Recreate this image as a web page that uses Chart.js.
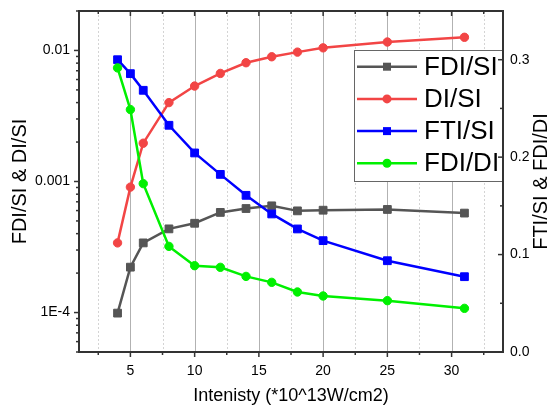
<!DOCTYPE html>
<html>
<head>
<meta charset="utf-8">
<script src="https://cdn.jsdelivr.net/npm/chart.js@4"></script>
<style>
  html, body { margin: 0; padding: 0; background: #fff; }
  #wrap { width: 551px; height: 405px; }
</style>
</head>
<body>
<div id="wrap"><canvas id="chart" width="551" height="405"></canvas></div>
<script>
// values
const intensity = [4, 5, 6, 8, 10, 12, 14, 16, 18, 20, 25, 31];
const fdiSi = [9.9e-5, 2.22e-4, 3.4e-4, 4.35e-4, 4.8e-4, 5.81e-4, 6.22e-4, 6.52e-4, 5.97e-4, 6.04e-4, 6.12e-4, 5.74e-4];
const diSi = [3.4e-4, 9.06e-4, 1.96e-3, 4.0e-3, 5.35e-3, 6.68e-3, 8.06e-3, 8.95e-3, 9.71e-3, 1.047e-2, 1.16e-2, 1.26e-2];
const ftiSi = [0.300, 0.2857, 0.2686, 0.2327, 0.2043, 0.1823, 0.1608, 0.1417, 0.1263, 0.1143, 0.0937, 0.0773];
const fdiDi = [0.2916, 0.2488, 0.1728, 0.1084, 0.0886, 0.0869, 0.0776, 0.0715, 0.0616, 0.0575, 0.0527, 0.0448];

const xTicks = [5, 10, 15, 20, 25, 30];
const xMinor = [2.5, 7.5, 12.5, 17.5, 22.5, 27.5, 32.5];
const leftTicks = [1e-4, 1e-3, 1e-2];
const leftTickLabels = ['1E-4', '0.001', '0.01'];
const rightTicks = [0, 0.1, 0.2, 0.3];
const rightTickLabels = ['0.0', '0.1', '0.2', '0.3'];
const rightMinor = [0.05, 0.15, 0.25];

const FONT = "'Liberation Sans', Arial, sans-serif";
Chart.defaults.font.family = FONT;
Chart.defaults.color = '#000';

function pts(ys) { return intensity.map(function(x, i) { return { x: x, y: ys[i] }; }); }

function series(label, ys, color, style, axis, order) {
  return {
    label: label, data: pts(ys), yAxisID: axis, order: order,
    borderColor: color, backgroundColor: color,
    pointBackgroundColor: color, pointBorderColor: color,
    pointStyle: style, pointRadius: style === 'rect' ? 5.5 : 4.2, pointBorderWidth: 1,
    borderWidth: 2.5, tension: 0
  };
}

// chart.js reserves room for edge labels; the frame here is fixed, so drop it
function noEdgePad(s) { s.paddingTop = 0; s.paddingBottom = 0; s.paddingLeft = 0; s.paddingRight = 0; }

const decor = {
  id: 'decor',
  beforeDatasetsDraw(chart) {
    const ctx = chart.ctx, a = chart.chartArea, x = chart.scales.x;
    ctx.save();
    ctx.lineWidth = 1;
    ctx.strokeStyle = '#d4d4d4';
    ctx.setLineDash([2, 2]);
    xMinor.forEach(function(v) {
      const px = Math.round(x.getPixelForValue(v)) + 0.5;
      ctx.beginPath(); ctx.moveTo(px, a.top); ctx.lineTo(px, a.bottom); ctx.stroke();
    });
    ctx.setLineDash([]);
    ctx.strokeStyle = '#b2b2b2';
    xTicks.forEach(function(v) {
      const px = Math.round(x.getPixelForValue(v)) + 0.5;
      ctx.beginPath(); ctx.moveTo(px, a.top); ctx.lineTo(px, a.bottom); ctx.stroke();
    });
    ctx.restore();
  },
  afterDatasetsDraw(chart) {
    const ctx = chart.ctx, a = chart.chartArea;
    const x = chart.scales.x, y = chart.scales.y, y2 = chart.scales.y2;

    // legend, clipped to the plot area like the original
    ctx.save();
    ctx.beginPath(); ctx.rect(a.left, a.top, a.right - a.left, a.bottom - a.top); ctx.clip();
    const bx = 354.5, by = 50.5;
    ctx.fillStyle = '#fff';
    ctx.fillRect(bx, by, 200, 131);
    ctx.strokeStyle = '#666'; ctx.lineWidth = 1;
    ctx.strokeRect(bx, by, 200, 131);
    chart.data.datasets.forEach(function(ds, i) {
      const ry = 66.7 + i * 32.2;
      ctx.strokeStyle = ds.borderColor; ctx.lineWidth = 2.5;
      ctx.beginPath(); ctx.moveTo(357, ry); ctx.lineTo(417, ry); ctx.stroke();
      ctx.fillStyle = ds.borderColor;
      ctx.beginPath();
      if (ds.pointStyle === 'rect') ctx.rect(383, ry - 4, 8, 8);
      else ctx.arc(387, ry, 4.5, 0, Math.PI * 2);
      ctx.fill();
      ctx.fillStyle = '#000';
      ctx.font = '26px ' + FONT;
      ctx.textBaseline = 'middle'; ctx.textAlign = 'left';
      ctx.fillText(ds.label, 424, ry + 1);
    });
    ctx.restore();

    // frame and tick marks
    ctx.save();
    ctx.strokeStyle = '#333';
    ctx.lineWidth = 2;
    ctx.strokeRect(a.left, a.top, a.right - a.left, a.bottom - a.top);
    ctx.lineWidth = 1.5;
    function seg(x1, y1, x2, y2b) { ctx.beginPath(); ctx.moveTo(x1, y1); ctx.lineTo(x2, y2b); ctx.stroke(); }
    xTicks.forEach(function(v) {
      const px = x.getPixelForValue(v);
      seg(px, a.bottom, px, a.bottom + 5);
      seg(px, a.top, px, a.top + 5);
    });
    xMinor.forEach(function(v) {
      const px = x.getPixelForValue(v);
      seg(px, a.bottom, px, a.bottom + 3);
      seg(px, a.top, px, a.top + 3);
    });
    leftTicks.forEach(function(v) {
      const py = y.getPixelForValue(v);
      seg(a.left, py, a.left - 5, py);
    });
    [1e-5, 1e-4, 1e-3, 1e-2].forEach(function(d) {
      for (let m = 2; m <= 9; m++) {
        const v = d * m;
        if (v < y.min || v > y.max) continue;
        const py = y.getPixelForValue(v);
        seg(a.left, py, a.left - 3, py);
      }
    });
    rightTicks.forEach(function(v) {
      const py = y2.getPixelForValue(v);
      seg(a.right, py, a.right - 5, py);
    });
    rightMinor.forEach(function(v) {
      const py = y2.getPixelForValue(v);
      seg(a.right, py, a.right - 3, py);
    });

    // right title reads bottom to top
    ctx.translate(541, (a.top + a.bottom) / 2);
    ctx.rotate(-Math.PI / 2);
    ctx.fillStyle = '#000';
    ctx.font = '20px ' + FONT;
    ctx.textAlign = 'center'; ctx.textBaseline = 'middle';
    ctx.fillText('FTI/SI & FDI/DI', 0, 0);
    ctx.restore();
  }
};

new Chart(document.getElementById('chart'), {
  type: 'line',
  data: {
    datasets: [
      series('FDI/SI', fdiSi, '#555555', 'rect', 'y', 3),
      series('DI/SI', diSi, '#f24545', 'circle', 'y', 2),
      series('FTI/SI', ftiSi, '#0000ff', 'rect', 'y2', 1),
      series('FDI/DI', fdiDi, '#00f000', 'circle', 'y2', 0)
    ]
  },
  options: {
    responsive: false,
    animation: false,
    layout: { padding: { top: 11, left: 0, right: 0, bottom: 0 } },
    plugins: { legend: { display: false }, tooltip: { enabled: false } },
    scales: {
      x: {
        type: 'linear', min: 1, max: 34,
        afterBuildTicks: function(s) { s.ticks = xTicks.map(function(v) { return { value: v }; }); },
        afterFit: function(s) { s.height = 53; noEdgePad(s); },
        grid: { display: false, drawTicks: false }, border: { display: false },
        ticks: { font: { size: 14 }, color: '#000', padding: 11, maxRotation: 0, autoSkip: false },
        title: { display: true, text: 'Intenisty (*10^13W/cm2)', font: { size: 18, lineHeight: 1 }, color: '#000', padding: { top: 0, bottom: 0 } }
      },
      y: {
        type: 'logarithmic', position: 'left', min: 5e-5, max: 0.02,
        afterBuildTicks: function(s) { s.ticks = leftTicks.map(function(v) { return { value: v }; }); },
        afterFit: function(s) { s.width = 79; noEdgePad(s); },
        grid: { display: false, drawTicks: false }, border: { display: false },
        ticks: {
          font: { size: 14 }, color: '#000', padding: 9, autoSkip: false,
          callback: function(v) { const i = leftTicks.indexOf(v); return i >= 0 ? leftTickLabels[i] : ''; }
        },
        title: { display: true, text: 'FDI/SI & DI/SI', font: { size: 20 }, color: '#000', padding: { top: 8, bottom: 0 } }
      },
      y2: {
        type: 'linear', position: 'right', min: 0, max: 0.35,
        afterBuildTicks: function(s) { s.ticks = rightTicks.map(function(v) { return { value: v }; }); },
        afterFit: function(s) { s.width = 48; noEdgePad(s); },
        grid: { display: false, drawTicks: false }, border: { display: false },
        ticks: {
          font: { size: 14 }, color: '#000', padding: 7, autoSkip: false,
          callback: function(v) { const i = rightTicks.indexOf(v); return i >= 0 ? rightTickLabels[i] : ''; }
        }
      }
    }
  },
  plugins: [decor]
});
</script>
</body>
</html>
